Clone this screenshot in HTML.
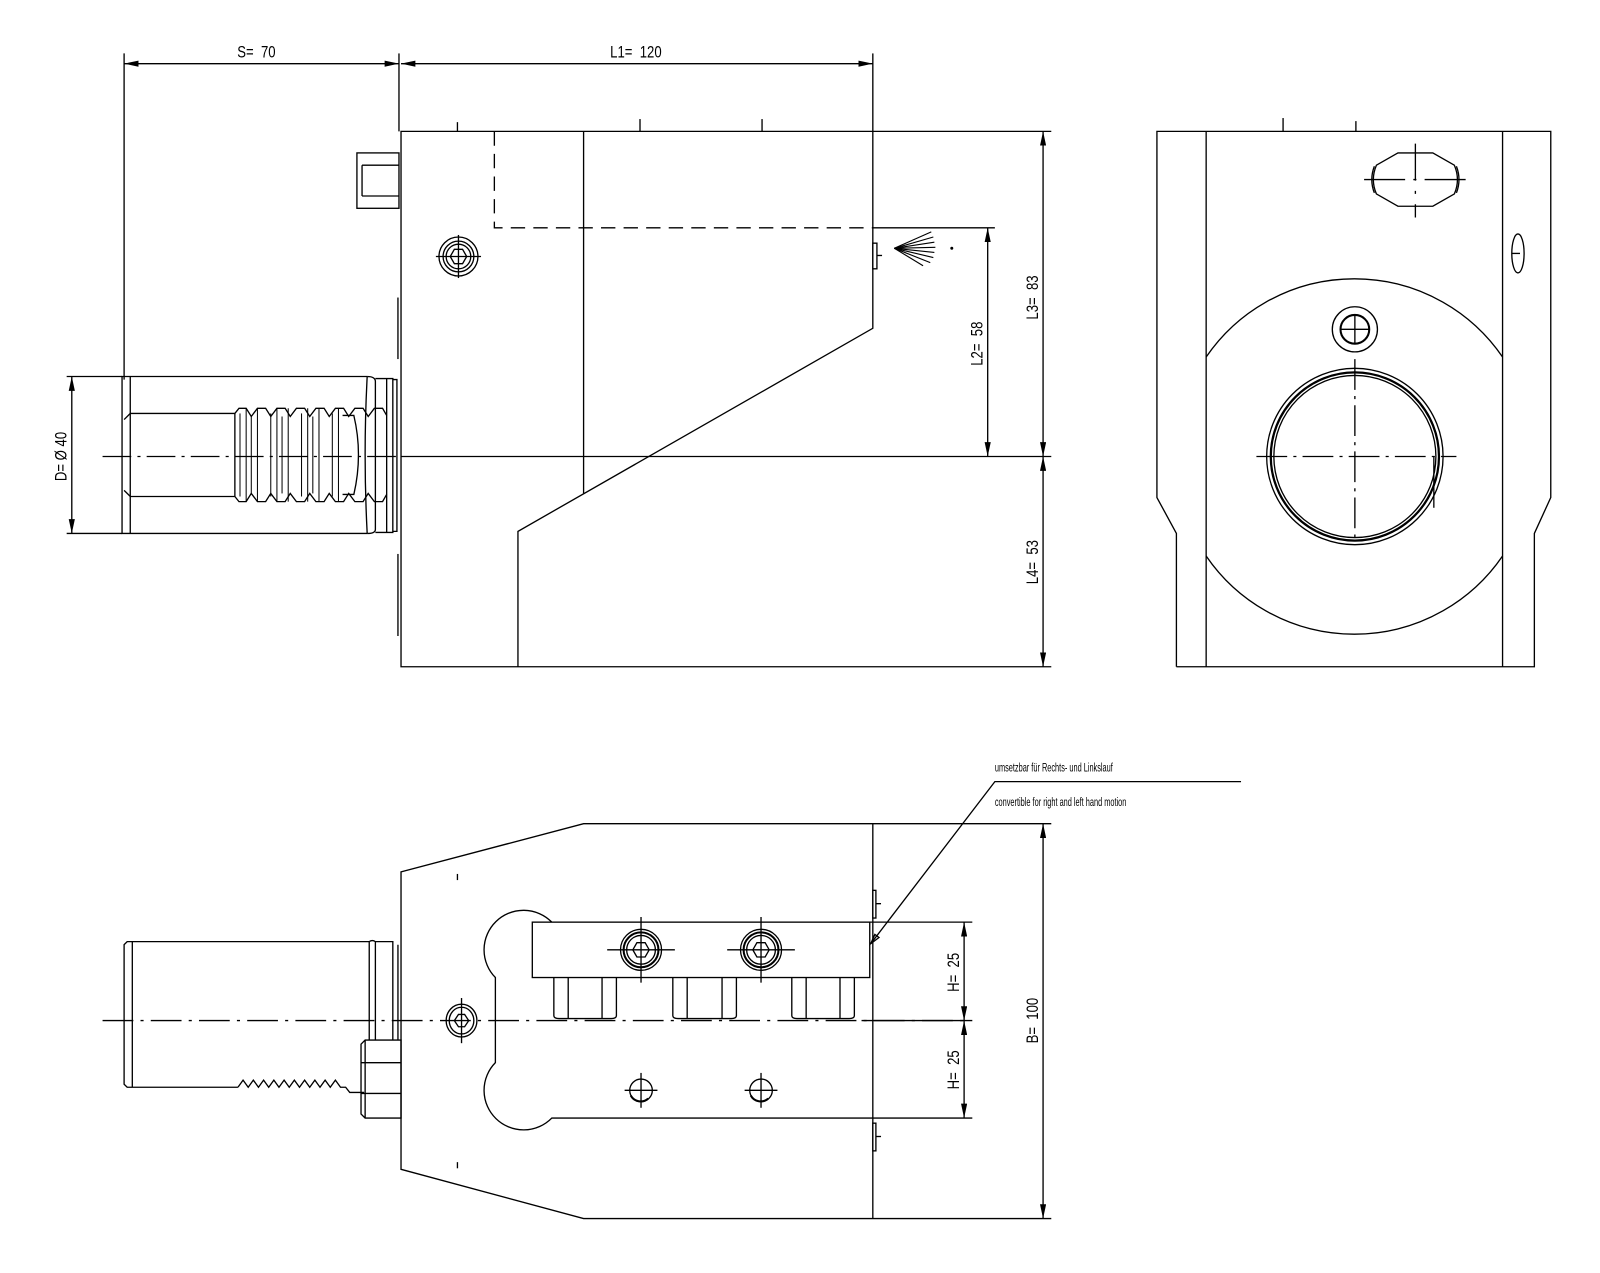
<!DOCTYPE html>
<html><head><meta charset="utf-8"><style>
html,body{margin:0;padding:0;background:#fff;}
svg{display:block;}
text{font-family:"Liberation Sans",sans-serif;fill:#000;white-space:pre;}
</style></head><body>
<svg width="1600" height="1273" viewBox="0 0 1560 1241" xmlns="http://www.w3.org/2000/svg" xml:space="preserve">
<defs>
<marker id="a" viewBox="0 0 14 6" refX="14" refY="3" markerWidth="14" markerHeight="6" markerUnits="userSpaceOnUse" orient="auto-start-reverse"><path d="M0,0 L14,3 L0,6 z" fill="#000"/></marker>
</defs>
<g fill="none" stroke="#000" stroke-width="1.3">
<line x1="121" y1="52" x2="121" y2="370"/>
<line x1="389" y1="52" x2="389" y2="128"/>
<line x1="851" y1="52" x2="851" y2="128"/>
<line x1="121" y1="62" x2="389" y2="62" marker-start="url(#a)" marker-end="url(#a)"/>
<line x1="391" y1="62" x2="851" y2="62" marker-start="url(#a)" marker-end="url(#a)"/>
<polyline points="1025,128 391,128 391,650 1025,650"/>
<polyline points="851,128 851,320 505,518 505,650"/>
<line x1="569" y1="128" x2="569" y2="481"/>
<line x1="391" y1="445" x2="1025" y2="445"/>
<line x1="100" y1="445" x2="391" y2="445" stroke-dasharray="28,6,3,6"/>
<polyline points="482,128 482,222 851,222" stroke-dasharray="14,8"/>
<line x1="851" y1="222" x2="970" y2="222"/>
<line x1="446" y1="119" x2="446" y2="128"/><line x1="624" y1="116" x2="624" y2="128"/><line x1="743" y1="116" x2="743" y2="128"/>
<rect x="851" y="237" width="4" height="25"/>
<line x1="855" y1="249" x2="860" y2="249"/>
<g stroke-width="1.1">
<line x1="872" y1="242" x2="908" y2="226"/><line x1="872" y1="242" x2="910" y2="231"/><line x1="872" y1="242" x2="911" y2="236"/><line x1="872" y1="242" x2="912" y2="241"/><line x1="872" y1="242" x2="911" y2="246"/><line x1="872" y1="242" x2="910" y2="251"/><line x1="872" y1="242" x2="907" y2="256"/><line x1="872" y1="242" x2="900" y2="259"/>
</g>
<circle cx="928" cy="242" r="0.8" fill="#000"/>
<line x1="388" y1="290" x2="388" y2="350"/>
<line x1="388" y1="540" x2="388" y2="620"/>
<circle cx="447" cy="250" r="19"/><circle cx="447" cy="250" r="15"/><circle cx="447" cy="250" r="12"/>
<polygon points="455,250 451,257 443,257 439,250 443,243 451,243"/>
<line x1="425" y1="250" x2="469" y2="250"/><line x1="447" y1="229" x2="447" y2="271"/>
<rect x="348" y="149" width="41" height="54"/>
<line x1="353" y1="161" x2="353" y2="191"/><line x1="353" y1="161" x2="389" y2="161"/><line x1="353" y1="191" x2="389" y2="191"/>
<polyline points="358,367 119,367 119,520 358,520"/>
<line x1="127" y1="367" x2="127" y2="520"/>
<polyline points="229,403 127,403 121,409"/>
<polyline points="229,484 127,484 121,478"/>
<path d="M229,403 L229,484 M229,403 l4,-5 l7,0 l5,8 l6,-8 l8,0 l5,8 l6,-8 l8,0 l5,8 l6,-8 l8,0 l5,8 l6,-8 l8,0 l5,8 l6,-8 l8,0 l5,8 l6,-8 l8,0 l5,8 l6,-8 l8,0 l4,7 M229,484 l4,5 l7,0 l5,-8 l6,8 l8,0 l5,-8 l6,8 l8,0 l5,-8 l6,8 l8,0 l5,-8 l6,8 l8,0 l5,-8 l6,8 l8,0 l5,-8 l6,8 l8,0 l5,-8 l6,8 l8,0 l4,-7"/>
<g stroke-width="1">
<line x1="240" y1="398" x2="240" y2="489"/><line x1="251" y1="398" x2="251" y2="489"/><line x1="270" y1="398" x2="270" y2="489"/><line x1="281" y1="398" x2="281" y2="489"/><line x1="300" y1="398" x2="300" y2="489"/><line x1="311" y1="398" x2="311" y2="489"/><line x1="330" y1="398" x2="330" y2="489"/>
<line x1="234" y1="403" x2="234" y2="484"/><line x1="245" y1="406" x2="245" y2="481"/><line x1="264" y1="403" x2="264" y2="484"/><line x1="275" y1="406" x2="275" y2="481"/><line x1="294" y1="403" x2="294" y2="484"/><line x1="305" y1="406" x2="305" y2="481"/><line x1="324" y1="403" x2="324" y2="484"/>
</g>
<path d="M334,405 L345,405 Q354,443 345,482 L334,482"/>
<path d="M358,367 Q354,443 358,520 M358,367 Q366,367 366,372 L366,516 Q366,520 358,520"/>
<path d="M366,369 L377,369 L377,519 L366,519 M377,369 L383,369 L383,519 L377,519 M383,370 L387,370 L387,518 L383,518"/>
<line x1="65" y1="367" x2="119" y2="367"/><line x1="65" y1="520" x2="119" y2="520"/>
<line x1="70" y1="367" x2="70" y2="520" marker-start="url(#a)" marker-end="url(#a)"/>
<line x1="963" y1="222" x2="963" y2="445" marker-start="url(#a)" marker-end="url(#a)"/>
<line x1="1017" y1="128" x2="1017" y2="445" marker-start="url(#a)" marker-end="url(#a)"/>
<line x1="1017" y1="445" x2="1017" y2="650" marker-start="url(#a)" marker-end="url(#a)"/>

<polyline points="1147,650 1147,520 1128,485 1128,128 1512,128 1512,485 1496,520 1496,650 1147,650"/>
<line x1="1176" y1="128" x2="1176" y2="650"/><line x1="1465" y1="128" x2="1465" y2="650"/>
<line x1="1251" y1="115" x2="1251" y2="128"/><line x1="1322" y1="118" x2="1322" y2="128"/>
<path d="M1176,348 A175,175 0 0 1 1465,348"/>
<path d="M1176,542 A175,175 0 0 0 1465,542"/>
<circle cx="1321" cy="445" r="86"/>
<circle cx="1321" cy="445" r="82" stroke-width="2.2"/>
<circle cx="1321" cy="445" r="79"/>
<line x1="1398" y1="445" x2="1398" y2="495"/>
<line x1="1225" y1="445" x2="1420" y2="445" stroke-dasharray="30,6,3,6"/>
<line x1="1321" y1="350" x2="1321" y2="530" stroke-dasharray="30,6,3,6"/>
<circle cx="1321" cy="321" r="22"/><circle cx="1321" cy="321" r="14" stroke-width="2"/>
<line x1="1307" y1="321" x2="1335" y2="321"/><line x1="1321" y1="307" x2="1321" y2="335"/>
<path d="M1363,149 L1397,149 L1418,161 Q1424,175 1418,189 L1397,201 L1363,201 L1342,189 Q1336,175 1342,161 Z"/>
<path d="M1340,162 Q1335,175 1340,188 M1420,162 Q1425,175 1420,188"/>
<line x1="1330" y1="175" x2="1430" y2="175" stroke-dasharray="40,8,3,8"/>
<line x1="1380" y1="140" x2="1380" y2="212" stroke-dasharray="36,10,3,10"/>
<ellipse cx="1480" cy="247" rx="6" ry="19"/><line x1="1474" y1="247" x2="1482" y2="247"/>

<polyline points="1025,803 569,803 391,850 391,1140 569,1188 1025,1188"/>
<line x1="851" y1="803" x2="851" y2="1188"/>
<line x1="446" y1="852" x2="446" y2="858"/><line x1="446" y1="1133" x2="446" y2="1139"/>
<line x1="100" y1="995" x2="945" y2="995" stroke-dasharray="30,7,3,7"/>
<polyline points="360,918 124,918 121,921 121,1057 124,1060 232,1060"/>
<line x1="129" y1="918" x2="129" y2="1060"/>
<path d="M232,1060 l5,-7 l5,7 l5,-7 l5,7 l5,-7 l5,7 l5,-7 l5,7 l5,-7 l5,7 l5,-7 l5,7 l5,-7 l5,7 l5,-7 l5,7 l5,-7 l5,7 l5,-7 l5,7 l5,0 l4,5 l14,0"/>
<path d="M360,918 L360,1014 M366,918 L366,1014 M360,918 Q363,916 366,918 L383,918 L383,1014 M388,921 L388,1014"/>
<path d="M352,1018 l4,-4 l35,0 L391,1090 l-35,0 l-4,-4 Z M356,1014 L356,1090 M352,1036 L391,1036 M352,1066 L391,1066"/>
<ellipse cx="450" cy="995" rx="15" ry="16"/><ellipse cx="450" cy="995" rx="12" ry="13"/>
<polygon points="457,995 453,1001 447,1001 443,995 447,989 453,989"/>
<line x1="450" y1="973" x2="450" y2="1017"/>
<path d="M538,899 A34,34 0 1 0 483,953 L483,1036 A34,34 0 1 0 538,1090 L851,1090"/>
<rect x="519" y="899" width="329" height="54"/>
<path d="M540,953 L540,990 Q540,993 545,993 L596,993 Q601,993 601,990 L601,953 M554,953 L554,993 M587,953 L587,993"/>
<path d="M656,953 L656,990 Q656,993 661,993 L713,993 Q718,993 718,990 L718,953 M670,953 L670,993 M704,953 L704,993"/>
<path d="M772,953 L772,990 Q772,993 777,993 L828,993 Q833,993 833,990 L833,953 M786,953 L786,993 M819,953 L819,993"/>
<circle cx="625" cy="926" r="20"/><circle cx="625" cy="926" r="17" stroke-width="2"/><circle cx="625" cy="926" r="14"/>
<polygon points="633,926 629,933 621,933 617,926 621,919 629,919"/>
<line x1="592" y1="926" x2="658" y2="926"/><line x1="625" y1="894" x2="625" y2="958"/>
<circle cx="742" cy="926" r="20"/><circle cx="742" cy="926" r="17" stroke-width="2"/><circle cx="742" cy="926" r="14"/>
<polygon points="750,926 746,933 738,933 734,926 738,919 746,919"/>
<line x1="709" y1="926" x2="775" y2="926"/><line x1="742" y1="894" x2="742" y2="958"/>
<circle cx="625" cy="1063" r="11"/><path d="M615,1068 A11,11 0 0 0 632,1071" stroke-width="2"/>
<line x1="609" y1="1063" x2="641" y2="1063"/><line x1="625" y1="1046" x2="625" y2="1080"/>
<circle cx="742" cy="1063" r="11"/><path d="M732,1068 A11,11 0 0 0 749,1071" stroke-width="2"/>
<line x1="726" y1="1063" x2="758" y2="1063"/><line x1="742" y1="1046" x2="742" y2="1080"/>
<rect x="851" y="868" width="3" height="27"/><line x1="854" y1="881" x2="859" y2="881"/>
<rect x="851" y="1095" width="3" height="27"/><line x1="854" y1="1108" x2="859" y2="1108"/>
<polyline points="849,920 970,762 1210,762"/>
<path d="M849,920 l4,-9 l4,3 z"/>
<line x1="848" y1="899" x2="948" y2="899"/><line x1="840" y1="995" x2="948" y2="995"/><line x1="851" y1="1090" x2="948" y2="1090"/>
<line x1="940" y1="899" x2="940" y2="995" marker-start="url(#a)" marker-end="url(#a)"/>
<line x1="940" y1="995" x2="940" y2="1090" marker-start="url(#a)" marker-end="url(#a)"/>
<line x1="1017" y1="803" x2="1017" y2="1188" marker-start="url(#a)" marker-end="url(#a)"/>
</g>
<g font-size="16">
<text transform="translate(250 56) scale(0.8 1)" text-anchor="middle">S=  70</text>
<text transform="translate(620 56) scale(0.8 1)" text-anchor="middle">L1=  120</text>
<text transform="translate(65 445) rotate(-90) scale(0.8 1)" text-anchor="middle">D= Ø 40</text>
<text transform="translate(958 335) rotate(-90) scale(0.8 1)" text-anchor="middle">L2=  58</text>
<text transform="translate(1012 290) rotate(-90) scale(0.8 1)" text-anchor="middle">L3=  83</text>
<text transform="translate(1012 548) rotate(-90) scale(0.8 1)" text-anchor="middle">L4=  53</text>
<text transform="translate(935 948) rotate(-90) scale(0.8 1)" text-anchor="middle">H=  25</text>
<text transform="translate(935 1043) rotate(-90) scale(0.8 1)" text-anchor="middle">H=  25</text>
<text transform="translate(1012 995) rotate(-90) scale(0.8 1)" text-anchor="middle">B=  100</text>
</g>
<g font-size="12">
<text transform="translate(970 752) scale(0.6 1)">umsetzbar für Rechts- und Linkslauf</text>
<text transform="translate(970 786) scale(0.6 1)">convertible for right and left hand motion</text>
</g>
</svg>
</body></html>
